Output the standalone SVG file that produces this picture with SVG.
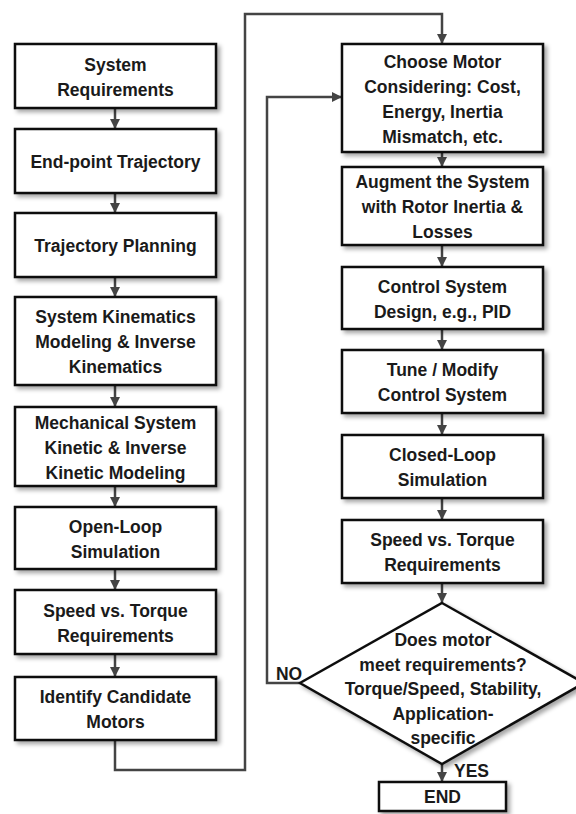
<svg xmlns="http://www.w3.org/2000/svg" width="576" height="814" viewBox="0 0 576 814">
<style>
.box{fill:#fff;stroke:#111;stroke-width:2.5;filter:url(#sh)}
.t{font-family:"Liberation Sans",Arial,sans-serif;font-weight:bold;font-size:17.5px;fill:#1a1a1a;text-anchor:middle}
.ca{fill:none;stroke:#444;stroke-width:2.5;marker-end:url(#ah)}
</style>
<defs>
<filter id="sh" x="-10%" y="-10%" width="130%" height="140%">
<feDropShadow dx="3" dy="3" stdDeviation="2" flood-color="#000" flood-opacity="0.35"/>
</filter>
<marker id="ah" viewBox="0 0 10 10" refX="10" refY="5" markerWidth="4" markerHeight="4" orient="auto" markerUnits="strokeWidth">
<path d="M0,0 L10,5 L0,10 z" fill="#444"/>
</marker>
</defs>
<rect width="576" height="814" fill="#fff"/>
<g id="connectors">
<path class="ca" d="M115,108 V129"/>
<path class="ca" d="M115,193 V213"/>
<path class="ca" d="M115,277 V297"/>
<path class="ca" d="M115,385 V407"/>
<path class="ca" d="M115,486 V507"/>
<path class="ca" d="M115,569 V590"/>
<path class="ca" d="M115,654 V677"/>
<path class="ca" d="M115,740 V770 H245 V14 H442 V44"/>
<path class="ca" d="M442,152 V167"/>
<path class="ca" d="M442,245 V267"/>
<path class="ca" d="M442,329 V350"/>
<path class="ca" d="M442,413 V435"/>
<path class="ca" d="M442,498 V520"/>
<path class="ca" d="M442,583 V603"/>
<path class="ca" d="M300,683 H267 V97 H342"/>
<path class="ca" d="M442,764 V782"/>
<text class="t" x="289" y="680">NO</text>
<text class="t" x="454" y="777" style="text-anchor:start">YES</text>
</g>
<g id="n1"><rect class="box" x="15" y="44" width="201" height="64"/><text class="t" x="115.5" y="71">System</text><text class="t" x="115.5" y="96">Requirements</text></g>
<g id="n2"><rect class="box" x="15" y="129" width="201" height="64"/><text class="t" x="115.5" y="168">End-point Trajectory</text></g>
<g id="n3"><rect class="box" x="15" y="213" width="201" height="64"/><text class="t" x="115.5" y="252">Trajectory Planning</text></g>
<g id="n4"><rect class="box" x="15" y="297" width="201" height="88"/><text class="t" x="115.5" y="323">System Kinematics</text><text class="t" x="115.5" y="348">Modeling &amp; Inverse</text><text class="t" x="115.5" y="373">Kinematics</text></g>
<g id="n5"><rect class="box" x="15" y="407" width="201" height="79"/><text class="t" x="115.5" y="428.5">Mechanical System</text><text class="t" x="115.5" y="453.5">Kinetic &amp; Inverse</text><text class="t" x="115.5" y="478.5">Kinetic Modeling</text></g>
<g id="n6"><rect class="box" x="15" y="507" width="201" height="62"/><text class="t" x="115.5" y="532.5">Open-Loop</text><text class="t" x="115.5" y="557.5">Simulation</text></g>
<g id="n7"><rect class="box" x="15" y="590" width="201" height="64"/><text class="t" x="115.5" y="616.5">Speed vs. Torque</text><text class="t" x="115.5" y="641.5">Requirements</text></g>
<g id="n8"><rect class="box" x="15" y="677" width="201" height="63"/><text class="t" x="115.5" y="703">Identify Candidate</text><text class="t" x="115.5" y="728">Motors</text></g>
<g id="r1"><rect class="box" x="342" y="44" width="201" height="108"/><text class="t" x="442.5" y="68">Choose Motor</text><text class="t" x="442.5" y="93">Considering: Cost,</text><text class="t" x="442.5" y="118">Energy, Inertia</text><text class="t" x="442.5" y="143">Mismatch, etc.</text></g>
<g id="r2"><rect class="box" x="342" y="167" width="201" height="78"/><text class="t" x="442.5" y="188">Augment the System</text><text class="t" x="442.5" y="213">with Rotor Inertia &amp;</text><text class="t" x="442.5" y="238">Losses</text></g>
<g id="r3"><rect class="box" x="342" y="267" width="201" height="62"/><text class="t" x="442.5" y="292.5">Control System</text><text class="t" x="442.5" y="317.5">Design, e.g., PID</text></g>
<g id="r4"><rect class="box" x="342" y="350" width="201" height="63"/><text class="t" x="442.5" y="376">Tune / Modify</text><text class="t" x="442.5" y="401">Control System</text></g>
<g id="r5"><rect class="box" x="342" y="435" width="201" height="63"/><text class="t" x="442.5" y="461">Closed-Loop</text><text class="t" x="442.5" y="486">Simulation</text></g>
<g id="r6"><rect class="box" x="342" y="520" width="201" height="63"/><text class="t" x="442.5" y="546">Speed vs. Torque</text><text class="t" x="442.5" y="571">Requirements</text></g>
<g id="decision"><polygon class="box" points="442,603 584,683 442,764 300,683"/><text class="t" x="443" y="646">Does motor</text><text class="t" x="443" y="670.5">meet requirements?</text><text class="t" x="443" y="695">Torque/Speed, Stability,</text><text class="t" x="443" y="719.5">Application-</text><text class="t" x="443" y="744">specific</text></g>
<g id="end"><rect class="box" x="379" y="782" width="127" height="29"/><text class="t" x="442.5" y="803">END</text></g>
</svg>
